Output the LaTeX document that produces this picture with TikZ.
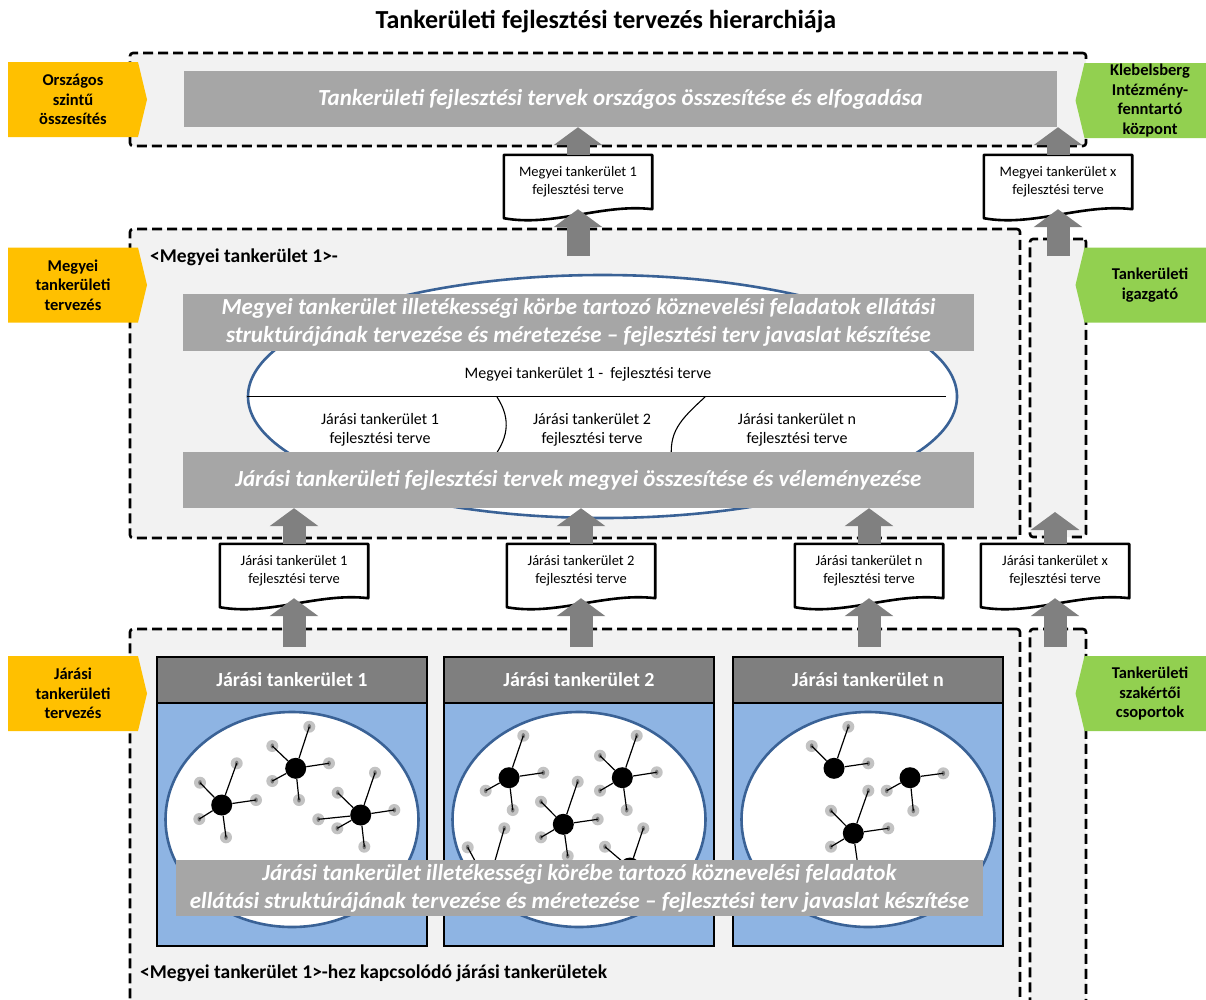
\documentclass[tikz,border=0pt]{standalone}
\usepackage{fontspec}
\setmainfont{Carlito}
\usetikzlibrary{arrows.meta, positioning, shapes.geometric, shapes.symbols, calc}
\definecolor{zonegray}{HTML}{F2F2F2}
\definecolor{bargray}{HTML}{A6A6A6}
\definecolor{arrowgray}{HTML}{808080}
\definecolor{hdrgray}{HTML}{7F7F7F}
\definecolor{panelblue}{HTML}{8EB4E3}
\definecolor{ringblue}{HTML}{3A6296}
\definecolor{lvlorange}{HTML}{FFC000}
\definecolor{lvlgreen}{HTML}{92D050}
\definecolor{satgray}{HTML}{C3C3C3}
\definecolor{dotgray}{HTML}{7A7A7A}
\tikzset{
  zone/.style={
    rectangle, rounded corners=3pt,
    draw=black, fill=zonegray, line width=2.6pt,
    dash pattern=on 10pt off 5pt, inner sep=0, outer sep=0
  },
  bar/.style={rectangle, fill=bargray, text=white, inner sep=0, align=center,
              font=\bfseries\itshape\fontsize{23}{28}\selectfont},
  doc/.style={rectangle, inner sep=0, minimum width=148pt, minimum height=54pt,
              align=center, font=\fontsize{14.5}{18}\selectfont},
  docline/.style={draw=black, line width=2.6pt, line join=round},
  uparrow/.style={draw=arrowgray, line width=23pt, -{Triangle[length=18pt, width=48pt]}},
  lvl/.style={signal, inner sep=0, minimum width=139pt, minimum height=75pt,
              align=center, font=\bfseries\fontsize{16.5}{19.5}\selectfont},
  lvlleft/.style={lvl, fill=lvlorange, signal to=east, signal pointer angle=153},
  lvlright/.style={lvl, fill=lvlgreen, signal to=west, signal pointer angle=153, minimum width=140pt},
  ring/.style={ellipse, draw=ringblue, fill=white, line width=2.6pt, inner sep=0},
  hdr/.style={rectangle, draw=black, fill=hdrgray, line width=2.6pt, text=white,
              minimum width=270pt, minimum height=46pt, inner sep=0, outer sep=0,
              font=\bfseries\fontsize{20}{22}\selectfont},
  body/.style={rectangle, draw=black, fill=panelblue, line width=2.6pt,
               minimum width=270pt, minimum height=243pt, inner sep=0, outer sep=0},
  hub/.style={circle, fill=black, minimum size=21pt, inner sep=0},
  sat/.style={circle, fill=satgray, minimum size=12pt, inner sep=0,
              path picture={\fill[dotgray] (path picture bounding box.center) ellipse (1.8pt and 2.6pt);}},
  bond/.style={draw=black, line width=1.2pt},
  divider/.style={draw=black, line width=1.1pt},
  plain/.style={font=\fontsize{16}{19}\selectfont, align=center, inner sep=0},
  caption/.style={font=\bfseries\fontsize{19.5}{22}\selectfont, anchor=west, inner sep=0},
}
% hub with its satellites
\newcommand{\molecule}[3]{%
  \node[hub] (#1) at (#2) {};
  \foreach \sx/\sy [count=\k] in {#3} {
    \node[sat] (#1-\k) at (\sx,\sy) {};
    \draw[bond] (#1) -- (#1-\k.center);
  }
}
% document outline with wavy bottom
\newcommand{\docoutline}[1]{%
  \draw[docline] (#1.north west) -- ($(#1.south west)+(0,9)$)
    .. controls ($(#1.south)+(-25,18)$) and ($(#1.south)+(25,-6)$) .. (#1.south east)
    -- (#1.north east) -- cycle;
}

\begin{document}
\begin{tikzpicture}[x=1pt, y=-1pt]
  \useasboundingbox (0,0) rectangle (1206,999);
  \clip (0,0) rectangle (1206,999);

  \node[font=\bfseries\fontsize{26}{29}\selectfont] (title) at (606,22) {Tankerületi fejlesztési tervezés hierarchiája};

  % levels
  \node[zone, minimum width=956pt, minimum height=93pt] (natzone) at (608,99.5) {};
  \node[zone, minimum width=890pt, minimum height=309pt] (megzone) at (575,383.5) {};
  \node[zone, minimum width=56pt, minimum height=298pt] (igzone) at (1058,388) {};
  \node[zone, minimum width=890pt, minimum height=400pt] (jzone) at (575,829) {};
  \node[zone, minimum width=56pt, minimum height=400pt] (szzone) at (1058,829) {};

  \node[lvlleft] (natlvl) at (73,99.5) {Országos\\szintű\\összesítés};
  \node[lvlright] (kiklvl) at (1150,100.5) {Klebelsberg\\Intézmény-\\fenntartó\\központ};
  \node[lvlleft] (meglvl) at (73,285) {Megyei\\tankerületi\\tervezés};
  \node[lvlright] (iglvl) at (1150,285) {Tankerületi\\igazgató};
  \node[lvlleft] (jarlvl) at (73,693.5) {Járási\\tankerületi\\tervezés};
  \node[lvlright] (szlvl) at (1150,693.5) {Tankerületi\\szakértői\\csoportok};

  \node[bar, minimum width=873pt, minimum height=56pt] (natbar) at (620.5,99) {Tankerületi fejlesztési tervek országos összesítése és elfogadása};

  % county plan
  \node[ring, minimum width=709pt, minimum height=243pt] (megring) at (602.5,396.5) {};
  \draw[divider] (megring.west) -- ($(megring.east)+(-12,0)$);
  \draw[divider] (497,397) .. controls (512,420) and (508,440) .. (490,462);
  \draw[divider] (705,397) .. controls (680,420) and (668,432) .. (672,462);
  \node[plain] (megplan) at (588,374) {Megyei tankerület 1 -\ \ fejlesztési terve};
  \node[plain] (plan1) at (380,429.5) {Járási tankerület 1\\fejlesztési terve};
  \node[plain] (plan2) at (592,429.5) {Járási tankerület 2\\fejlesztési terve};
  \node[plain] (plann) at (797,429.5) {Járási tankerület n\\fejlesztési terve};
  \node[bar, minimum width=791pt, minimum height=57pt] (megbar) at (578.5,322.5) {Megyei tankerület illetékességi körbe tartozó köznevelési feladatok ellátási\\struktúrájának tervezése és méretezése – fejlesztési terv javaslat készítése};
  \node[bar, minimum width=791pt, minimum height=56pt] (jarbar) at (578.5,480) {Járási tankerületi fejlesztési tervek megyei összesítése és véleményezése};
  \node[caption] (megcap) at (150,257) {<Megyei tankerület 1>-};

  % district panels
  \foreach \n/\x in {1/292, 2/579, n/868} {
    \node[hdr] (hdr\n) at (\x,680) {Járási tankerület \n};
    \node[body, below=0pt of hdr\n] (body\n) {};
    \node[ring, minimum width=253pt, minimum height=215pt] (ring\n) at ($(body\n.center)+(0,-5)$) {};
  }

  \molecule{hA}{221.7,805}{200/782.7, 236.7/763.3, 256/800, 199.3/819, 226/837.3}
  \molecule{hB}{295.7,768.3}{272.3/746, 309.3/726.7, 329/763.3, 272.3/781, 299/800}
  \molecule{hC}{360.7,815}{337.7/792.7, 375/772.7, 394.3/810, 318.3/819.3, 337.3/828.3, 364.3/846.7}
  \molecule{hD}{509,777.7}{523.3/735.7, 543.3/772.7, 485.7/790.7, 512.7/810}
  \molecule{hE}{622.3,777.7}{600/755.7, 636.7/735.7, 656.7/772.3, 600/790.7, 626.7/810}
  \molecule{hF}{563.3,824.3}{541/801.7, 577.7/781.7, 597.7/819.3, 541/837.3, 567.7/856}
  \molecule{hG}{630,868}{605/846.7, 643.3/828.3, 660/880}
  \molecule{hH}{488,885}{504.3/828.3, 467.7/847.3}
  \molecule{hI}{834,768.3}{811.7/746, 848.3/726.7, 868.3/763.3}
  \molecule{hJ}{910,777.7}{943.3/773.3, 886.7/790.7, 913.3/810.7}
  \molecule{hK}{853.3,833.3}{831/810.7, 868.3/790.7, 888.3/828.3, 831/846.7, 860/880}

  \node[bar, minimum width=807pt, minimum height=56pt] (jbar) at (579.5,888) {Járási tankerület illetékességi körébe tartozó köznevelési feladatok\\ellátási struktúrájának tervezése és méretezése – fejlesztési terv javaslat készítése};
  \node[caption] (jcap) at (140,973) {<Megyei tankerület 1>-hez kapcsolódó járási tankerületek};

  % plan documents
  \node[doc] (m1doc) at (578,182) {Megyei tankerület 1\\fejlesztési terve};
  \node[doc] (mxdoc) at (1058,182) {Megyei tankerület x\\fejlesztési terve};
  \node[doc] (j1doc) at (294,571) {Járási tankerület 1\\fejlesztési terve};
  \node[doc] (j2doc) at (581,571) {Járási tankerület 2\\fejlesztési terve};
  \node[doc] (jndoc) at (869,571) {Járási tankerület n\\fejlesztési terve};
  \node[doc] (jxdoc) at (1055,571) {Járási tankerület x\\fejlesztési terve};
  \foreach \d in {m1doc, mxdoc, j1doc, j2doc, jndoc, jxdoc}
    \docoutline{\d};

  % flow upwards
  \draw[uparrow] (m1doc.north) -- (m1doc.north |- natbar.south);
  \draw[uparrow] (mxdoc.north) -- (mxdoc.north |- natbar.south);
  \draw[uparrow] ($(m1doc.south |- megzone.north)+(0,27)$) -- (m1doc.south);
  \draw[uparrow] ($(mxdoc.south |- igzone.north)+(0,17)$) -- (mxdoc.south);
  \foreach \d in {j1doc, j2doc, jndoc} {
    \draw[uparrow] (\d.north) -- (\d.north |- jarbar.south);
    \draw[uparrow] ($(\d.south |- jzone.north)+(0,18)$) -- (\d.south);
  }
  \draw[uparrow] (jxdoc.north) -- ($(jxdoc.north |- igzone.south)+(0,-25)$);
  \draw[uparrow] ($(jxdoc.south |- szzone.north)+(0,18)$) -- (jxdoc.south);
\end{tikzpicture}
\end{document}
